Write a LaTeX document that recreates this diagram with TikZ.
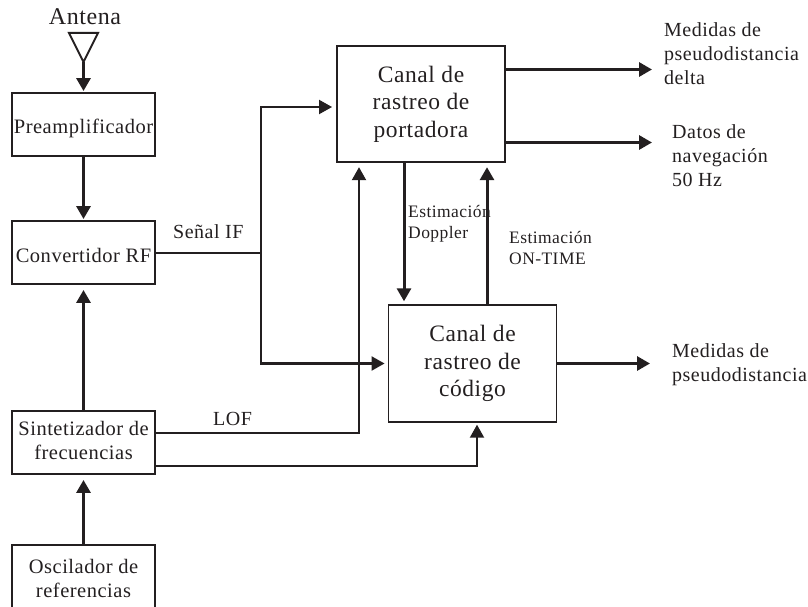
\documentclass[tikz,border=0pt]{standalone}
\usepackage{fontspec}
\setmainfont[LetterSpace=2.5]{Liberation Serif}
\usepackage{tikz}
\usetikzlibrary{arrows.meta}
\definecolor{ink}{HTML}{231F20}
\tikzset{
    block/.style={draw=ink,line width=1.9pt,text=ink,inner sep=0pt,align=center,minimum width=143pt,minimum height=63pt,font=\fontsize{20.5}{24}\selectfont},
    oneline/.style={block,text height=24pt,text depth=5pt},
    canal/.style={block,minimum width=168pt,minimum height=116.5pt,font=\fontsize{23.5}{27.5}\selectfont,execute at begin node={\rule{0pt}{25pt}}},
    label/.style={text=ink,inner sep=0pt,align=left,font=\fontsize{20}{24}\selectfont},
    smalllabel/.style={label,font=\fontsize{17.5}{21}\selectfont},
    wire/.style={draw=ink,line width=2pt},
    arrow/.style={draw=ink,line width=3pt,->},
}
\begin{document}
\begin{tikzpicture}[x=1pt,y=-1pt,>={Triangle[length=13pt,width=14pt]},shorten >=1pt]
    \useasboundingbox (0,0) rectangle (808,607);
    \node[oneline] (pre) at (83.5,124.5) {Preamplificador};
    \node[oneline] (conv) at (83.5,252.5) {Convertidor RF};
    \node[block,execute at end node={\rule[-4pt]{0pt}{0pt}}] (sint) at (83.5,442.5) {Sintetizador de\\frecuencias};
    \node[block,minimum height=66pt] (osc) at (83.5,578) {Oscilador de\\referencias};
    \node[canal] (port) at (421,104) {Canal de\\rastreo de\\portadora};
    \node[canal] (cod) at (472.5,363.5) {Canal de\\rastreo de\\código};
    % antena
    \node[label,font=\fontsize{24}{27}\selectfont] (ant) at (85,17) {Antena};
    \coordinate (anttip) at (83.5,62);
    \draw[wire] (69,33) -- (98,33) -- (anttip) -- cycle;
    \draw[arrow] (anttip) -- (pre.north);
    \draw[arrow] (pre) -- (conv);
    \draw[arrow,shorten >=5pt] (sint) -- (conv);
    \draw[arrow,shorten >=5pt] (osc) -- (sint);
    % senal IF
    \coordinate (bus) at (261,252.5);
    \draw[wire] (conv.east) -- (bus);
    \draw[wire,->,shorten >=4pt] (bus) |- ([yshift=-3pt]port.west);
    \draw[arrow,line width=2.2pt,shorten >=3pt] (bus) |- (cod.west);
    % LOF
    \draw[arrow,line width=2.2pt,shorten >=4pt] ([yshift=9.5pt]sint.east) -| ([xshift=-62pt]port.south);
    \draw[arrow,line width=2pt,shorten >=2pt] ([yshift=-23.5pt]sint.east) -| ([xshift=4.5pt]cod.south);
    % entre canales
    \draw[arrow,shorten >=3pt] ([xshift=-17pt]port.south) -- ([xshift=-17pt]port.south |- cod.north);
    \draw[arrow,shorten >=4pt] ([xshift=14.5pt]cod.north) -- ([xshift=14.5pt]cod.north |- port.south);
    % salidas
    \coordinate (out1) at (652,69.5);
    \coordinate (out2) at (652,142.5);
    \coordinate (out3) at (650,363.5);
    \draw[arrow,shorten >=0pt] (port.east |- out1) -- (out1);
    \draw[arrow,shorten >=0pt] (port.east |- out2) -- (out2);
    \draw[arrow,shorten >=0pt] (cod.east) -- (out3);
    % textos
    \node[label,anchor=west] (if) at (173,232) {Señal IF};
    \node[label,anchor=west] (lof) at (213,419) {LOF};
    \node[smalllabel,anchor=west] (dop) at (408,223.5) {Estimación\\Doppler};
    \node[smalllabel,anchor=west] (time) at (509,247.5) {Estimación\\ON-TIME};
    \node[label,anchor=west] (med) at (664,54) {Medidas de\\pseudodistancia\\delta};
    \node[label,anchor=west] (dat) at (672,156) {Datos de\\navegación\\50 Hz};
    \node[label,anchor=west] (pse) at (672,365) {Medidas de\\pseudodistancia};
\end{tikzpicture}
\end{document}
